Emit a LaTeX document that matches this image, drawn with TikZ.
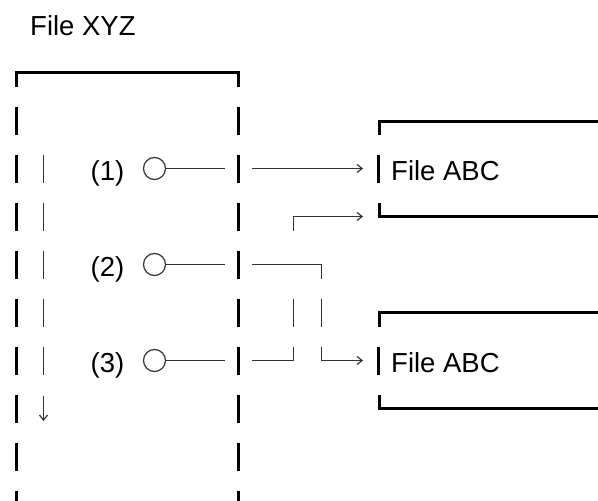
\documentclass[tikz,border=0pt]{standalone}
\usepackage{fontspec}
\setmainfont{Liberation Sans}
\usetikzlibrary{arrows.meta}
\tikzset{
    wall/.style={line width=3pt, line cap=butt, line join=miter},
    wall dashes/.style={wall, dash pattern=on 28pt off 20pt},
    wire/.style={line width=1.2pt, draw=black!80},
    wire dashes/.style={wire, dash pattern=on 28pt off 20pt},
    flow/.style={wire, -{Straight Barb[length=5pt,width=8pt]}},
    valve/.style={shape=circle, draw=black!80, line width=1.2pt, minimum size=22pt, inner sep=0pt},
    txt/.style={inner sep=0pt, font=\fontsize{27.5}{33}\selectfont}}

\begin{document}
\begin{tikzpicture}[x=1pt, y=-1pt]

            \useasboundingbox (0,0) rectangle (598,501);

            \node[txt, anchor=base west] (xyz) at (30,35) {File XYZ};

            % outer file, dashed sides
            \draw[wall] (16,86.5) -- (16,72.5) -- (238,72.5) -- (238,86.5);
            \draw[wall dashes] (16,106.5) -- (16,510);
            \draw[wall dashes] (238,106.5) -- (238,510);

            \draw[wire dashes] (43.5,154.5) -- (43.5,375);
            \draw[flow] (43.5,396) -- (43.5,421);

            \node[txt, anchor=base] (n1) at (107.5,180) {(1)};
            \node[txt, anchor=base] (n2) at (107.5,276) {(2)};
            \node[txt, anchor=base] (n3) at (107.5,372) {(3)};

            \node[valve] (o1) at (154.5,168.5) {};
            \node[valve] (o2) at (154.5,264.5) {};
            \node[valve] (o3) at (154.5,360.5) {};

            \coordinate (w1) at (225,168.5);
            \coordinate (w2) at (225,264.5);
            \coordinate (w3) at (225,360.5);

            \draw[wire] (o1) -- (w1);
            \draw[wire] (o2) -- (w2);
            \draw[wire] (o3) -- (w3);

            % the two target files
            \draw[wall] (379,134.5) -- (379,121) -- (600,121);
            \draw[wall] (378,154.5) -- (378,182.5);
            \draw[wall] (379,202.5) -- (379,216.5) -- (600,216.5);
            \node[txt, anchor=base west] (abc1) at (391,180) {File ABC};

            \draw[wall] (379,326.5) -- (379,312.5) -- (600,312.5);
            \draw[wall] (378,346.5) -- (378,374.5);
            \draw[wall] (379,394.5) -- (379,408.5) -- (600,408.5);
            \node[txt, anchor=base west] (abc2) at (391,372) {File ABC};

            \coordinate (s1) at (252,168.5);
            \coordinate (s2) at (252,264.5);
            \coordinate (s3) at (252,360.5);
            \coordinate (t1) at (363,168.5);
            \coordinate (t2) at (363,216.5);
            \coordinate (t3) at (363,360.5);

            % (1) straight across
            \draw[flow] (s1) -- (t1);

            % (2) down to the lower file
            \draw[wire] (s2) -| (321.5,278.5);
            \draw[wire] (321.5,298.5) -- (321.5,326.5);
            \draw[flow] (321.5,346.5) |- (t3);

            % (3) up to the upper file
            \draw[wire] (s3) -| (293.5,346.5);
            \draw[wire] (293.5,326.5) -- (293.5,298.5);
            \draw[flow] (293.5,230.5) |- (t2);

        \end{tikzpicture}
\end{document}
